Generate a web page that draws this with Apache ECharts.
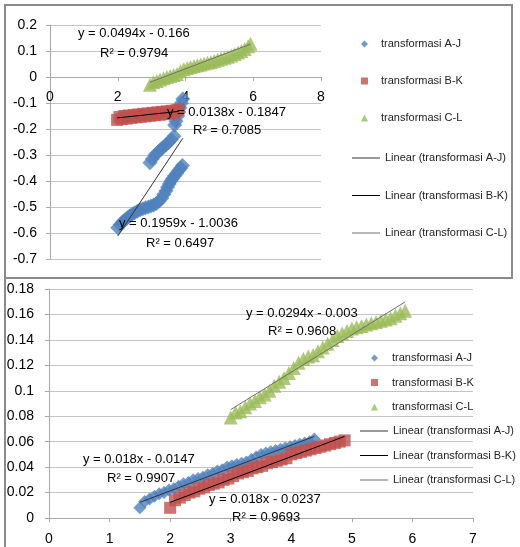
<!DOCTYPE html>
<html>
<head>
<meta charset="utf-8">
<script src="https://cdn.jsdelivr.net/npm/echarts@6/dist/echarts.min.js"></script>
<style>
  html, body { margin: 0; padding: 0; background: #fff; }
  #chart { width: 520px; height: 547px; }
</style>
</head>
<body>
<div id="chart"></div>
<script>
// ---- data: upper chart ----
var ajTopX = [2.00,2.07,2.14,2.21,2.28,2.35,2.42,2.50,2.58,2.66,2.74,2.82,2.90,2.98,3.06,3.14,3.22,3.30,3.36,3.42,3.47,3.52,3.57,3.62,3.68,3.74,3.80,3.86,3.91,
              2.95,3.02,3.10,3.18,3.26,3.34,3.42,3.50,3.58,3.66,
              3.68,3.72,3.76,3.80,3.84,3.88,3.92];
var ajTopY = [-0.580,-0.568,-0.558,-0.550,-0.542,-0.535,-0.528,-0.522,-0.516,-0.511,-0.507,-0.503,-0.500,-0.496,-0.492,-0.487,-0.478,-0.466,-0.452,-0.438,-0.424,-0.412,-0.400,-0.390,-0.380,-0.370,-0.360,-0.350,-0.340,
              -0.330,-0.315,-0.300,-0.290,-0.280,-0.270,-0.262,-0.252,-0.240,-0.228,
              -0.185,-0.170,-0.152,-0.135,-0.118,-0.100,-0.085];
var bkTopX = [1.98,2.05,2.12,2.19,2.26,2.33,2.40,2.47,2.54,2.61,2.68,2.75,2.82,2.89,2.96,3.03,3.10,3.17,3.24,3.31,3.38,3.45,3.52,3.59,3.66,3.73,3.80];
var bkTopY = [-0.165,-0.154,-0.162,-0.150,-0.160,-0.148,-0.157,-0.146,-0.155,-0.144,-0.153,-0.142,-0.151,-0.140,-0.149,-0.138,-0.147,-0.136,-0.145,-0.134,-0.143,-0.132,-0.141,-0.130,-0.139,-0.128,-0.126];
var clTopX = [2.95,3.05,3.15,3.25,3.35,3.45,3.55,3.65,3.75,3.85,3.95,4.05,4.15,4.25,4.35,4.45,4.55,4.65,4.75,4.85,4.95,5.05,5.15,5.25,5.35,5.45,5.55,5.65,5.75,5.85,5.92];
var clTopY = [-0.030,-0.020,-0.015,-0.010,-0.005,0.000,0.004,0.008,0.012,0.022,0.030,0.035,0.038,0.042,0.045,0.048,0.052,0.055,0.058,0.062,0.066,0.070,0.074,0.078,0.083,0.088,0.094,0.100,0.108,0.118,0.128];
var slopeTop = [0.1959, 0.0138, 0.0494];
var icptTop = [-1.0036, -0.1847, -0.166];

// ---- data: lower chart ----
var ajBotX = [1.50,1.58,1.66,1.74,1.82,1.90,1.98,2.06,2.14,2.22,2.30,2.38,2.46,2.54,2.62,2.70,2.78,2.86,2.94,3.02,3.10,3.18,3.26,3.34,3.42,3.50,3.58,3.66,3.74,3.82,3.90,3.98,4.06,4.14,4.22,4.30,4.38];
var ajBotY = [0.008,0.013,0.015,0.017,0.019,0.020,0.022,0.023,0.025,0.027,0.028,0.030,0.031,0.032,0.034,0.035,0.037,0.038,0.040,0.041,0.042,0.043,0.044,0.046,0.048,0.050,0.051,0.052,0.053,0.054,0.055,0.056,0.057,0.058,0.059,0.060,0.062];
var bkBotX = [2.00,2.08,2.16,2.24,2.32,2.40,2.48,2.56,2.64,2.72,2.80,2.88,2.96,3.04,3.12,3.20,3.28,3.36,3.44,3.52,3.60,3.68,3.76,3.84,3.92,4.00,4.08,4.16,4.24,4.32,4.40,4.48,4.56,4.64,4.72,4.80,4.88];
var bkBotY = [0.008,0.014,0.016,0.018,0.020,0.021,0.023,0.024,0.026,0.027,0.028,0.030,0.031,0.033,0.035,0.036,0.037,0.039,0.040,0.041,0.043,0.044,0.045,0.046,0.047,0.050,0.051,0.052,0.053,0.054,0.055,0.056,0.057,0.058,0.059,0.060,0.061];
var clBotX = [3.00,3.08,3.16,3.24,3.32,3.40,3.48,3.56,3.64,3.72,3.80,3.88,3.96,4.04,4.12,4.20,4.28,4.36,4.44,4.52,4.60,4.68,4.76,4.84,4.92,5.00,5.08,5.16,5.24,5.32,5.40,5.48,5.56,5.64,5.72,5.80,5.88];
var clBotY = [0.079,0.083,0.084,0.087,0.090,0.092,0.095,0.097,0.100,0.104,0.107,0.110,0.114,0.118,0.122,0.125,0.127,0.128,0.131,0.134,0.137,0.140,0.143,0.145,0.147,0.149,0.150,0.151,0.152,0.153,0.154,0.155,0.156,0.157,0.159,0.161,0.163];
var slopeBot = [0.018, 0.018, 0.0294];
var icptBot = [-0.0147, -0.0237, -0.003];

var names = ['transformasi A-J', 'transformasi B-K', 'transformasi C-L'];
var trendNames = ['Linear (transformasi A-J)', 'Linear (transformasi B-K)', 'Linear (transformasi C-L)'];
var colors = ['#4F81BD', '#C0504D', '#9BBB59'];
var trendColors = ['#333333', '#000000', '#6e6e6e'];
var symbols = ['diamond', 'rect', 'triangle'];

var eqTop = ['y = 0.1959x - 1.0036', 'y = 0.0138x - 0.1847', 'y = 0.0494x - 0.166'];
var r2Top = ['R² = 0.6497', 'R² = 0.7085', 'R² = 0.9794'];
var eqBot = ['y = 0.018x - 0.0147', 'y = 0.018x - 0.0237', 'y = 0.0294x - 0.003'];
var r2Bot = ['R² = 0.9907', 'R² = 0.9693', 'R² = 0.9608'];

function zip(xs, ys) {
  return xs.map(function (x, i) { return [x, ys[i]]; });
}
function trend(xs, m, b) {
  var lo = Math.min.apply(null, xs), hi = Math.max.apply(null, xs);
  return [[lo, m * lo + b], [hi, m * hi + b]];
}

var font = 'Liberation Sans';
var gridColor = '#c4c4c4';
var axisColor = '#a8a8a8';

var topSets = [[ajTopX, ajTopY], [bkTopX, bkTopY], [clTopX, clTopY]];
var botSets = [[ajBotX, ajBotY], [bkBotX, bkBotY], [clBotX, clBotY]];
var topSizes = [15, 12, 14];
var botSizes = [13, 12, 14];

var series = [];
[0, 1].forEach(function (g) {
  var sets = g === 0 ? topSets : botSets;
  var slopes = g === 0 ? slopeTop : slopeBot;
  var icpts = g === 0 ? icptTop : icptBot;
  var sizes = g === 0 ? topSizes : botSizes;
  sets.forEach(function (s, i) {
    series.push({
      name: names[i], type: 'scatter', xAxisIndex: g, yAxisIndex: g,
      symbol: symbols[i], symbolSize: sizes[i],
      itemStyle: { color: colors[i] },
      data: zip(s[0], s[1]), z: 2
    });
  });
  sets.forEach(function (s, i) {
    series.push({
      name: trendNames[i], type: 'line', xAxisIndex: g, yAxisIndex: g,
      symbol: 'none', silent: true,
      itemStyle: { color: trendColors[i] },
      lineStyle: { color: trendColors[i], width: 1 },
      data: trend(s[0], slopes[i], icpts[i]), z: 5
    });
  });
});

function legendBox(left, top, gap, markers, pad) {
  return {
    orient: 'vertical', left: left, top: top, itemGap: gap,
    itemWidth: markers ? 7 : 28, itemHeight: markers ? 7 : 1,
    textStyle: { fontFamily: font, fontSize: 11, color: '#222', lineHeight: 14, padding: [0, 0, 0, pad] },
    selectedMode: false,
    data: markers
      ? names.map(function (n, i) { return { name: n, icon: symbols[i] }; })
      : trendNames.map(function (n) { return { name: n, icon: 'rect' }; })
  };
}

function label(text, x, y) {
  return {
    type: 'text', x: x, y: y, z: 100,
    style: { text: text, fill: '#000', font: '13px "' + font + '"', verticalAlign: 'middle' }
  };
}

var chart = echarts.init(document.getElementById('chart'));
var option = {
  backgroundColor: '#ffffff',
  animation: false,
  grid: [
    { left: 50, top: 25, width: 271, height: 234 },
    { left: 49, top: 289, width: 424, height: 229 }
  ],
  xAxis: [
    {
      // the horizontal axis crosses at y = 0
      gridIndex: 0, type: 'value', min: 0, max: 8, interval: 2, offset: -182,
      axisLine: { onZero: false, lineStyle: { color: axisColor } },
      axisTick: { show: true, length: 4, lineStyle: { color: axisColor } },
      axisLabel: { color: '#000', fontFamily: font, fontSize: 14, margin: 13 },
      splitLine: { show: false }
    },
    {
      gridIndex: 1, type: 'value', min: 0, max: 7, interval: 1,
      axisLine: { lineStyle: { color: axisColor } },
      axisTick: { show: true, length: 4, lineStyle: { color: axisColor } },
      axisLabel: { color: '#000', fontFamily: font, fontSize: 14, margin: 14 },
      splitLine: { show: false }
    }
  ],
  yAxis: [
    {
      gridIndex: 0, type: 'value', min: -0.7, max: 0.2, interval: 0.1,
      axisLine: { show: true, onZero: false, lineStyle: { color: axisColor } },
      axisTick: { show: true, length: 4, lineStyle: { color: axisColor } },
      axisLabel: { color: '#000', fontFamily: font, fontSize: 14, margin: 13 },
      splitLine: { lineStyle: { color: gridColor } }
    },
    {
      gridIndex: 1, type: 'value', min: 0, max: 0.18, interval: 0.02,
      axisLine: { show: true, lineStyle: { color: axisColor } },
      axisTick: { show: true, length: 4, lineStyle: { color: axisColor } },
      axisLabel: { color: '#000', fontFamily: font, fontSize: 14, margin: 15 },
      splitLine: { lineStyle: { color: gridColor } }
    }
  ],
  legend: [
    legendBox(356, 32, 23, true, 8),
    legendBox(347, 146, 23.5, false, 0),
    legendBox(366, 346, 10.5, true, 9),
    legendBox(355, 419, 10.5, false, 0)
  ],
  graphic: [
    { type: 'rect', shape: { x: 5, y: 5, width: 507, height: 273 }, style: { fill: 'none', stroke: '#8a8a8a', lineWidth: 2 }, z: 50 },
    { type: 'line', shape: { x1: 5, y1: 278, x2: 5, y2: 547 }, style: { stroke: '#8a8a8a', lineWidth: 2 }, z: 50 },
    label(eqTop[2], 78, 33), label(r2Top[2], 100, 53),
    label(eqTop[1], 167, 112), label(r2Top[1], 193, 130),
    label(eqTop[0], 119, 223), label(r2Top[0], 146, 243),
    label(eqBot[2], 246, 313), label(r2Bot[2], 268, 331),
    label(eqBot[0], 83, 459), label(r2Bot[0], 107, 478),
    label(eqBot[1], 209, 499), label(r2Bot[1], 232, 517)
  ],
  series: series
};
chart.setOption(option);
</script>
</body>
</html>
